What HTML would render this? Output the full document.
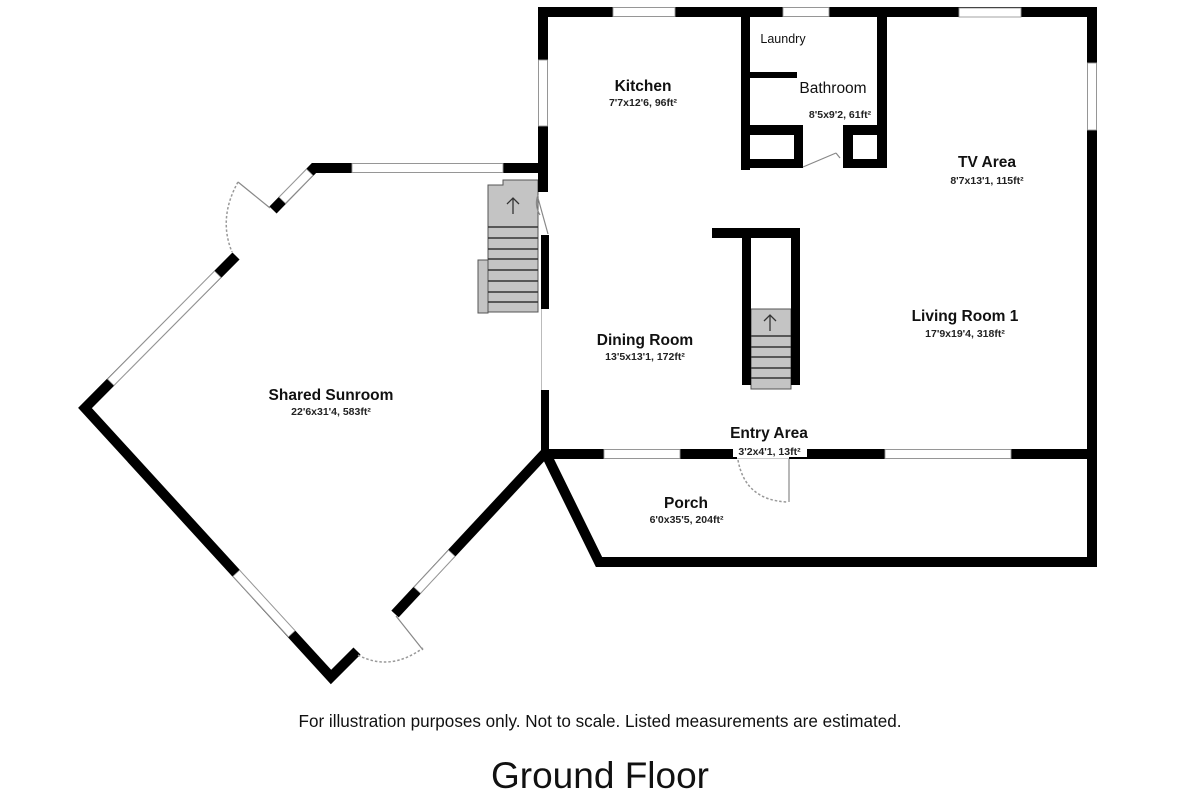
<!DOCTYPE html>
<html>
<head>
<meta charset="utf-8">
<style>
  html,body{margin:0;padding:0;background:#fff;}
  svg{display:block;}
  text{font-family:"Liberation Sans", Arial, sans-serif;}
  .lbl{font-size:15.5px;font-weight:bold;fill:#111;text-anchor:middle;}
  .dim{font-size:10.5px;font-weight:bold;fill:#222;text-anchor:middle;}
</style>
</head>
<body>
<svg width="1200" height="800" viewBox="0 0 1200 800" xmlns="http://www.w3.org/2000/svg">
  <rect width="1200" height="800" fill="#fff"/>

  <!-- Left stairs -->
  <g fill="#c4c4c4" stroke="#555" stroke-width="1">
    <rect x="478" y="260" width="10" height="53"/>
    <polygon points="488,185 503,185 503,180 538,180 538,312 488,312"/>
  </g>
  <g stroke="#333" stroke-width="1.5">
    <line x1="488" y1="227" x2="538" y2="227"/>
    <line x1="488" y1="238" x2="538" y2="238"/>
    <line x1="488" y1="249" x2="538" y2="249"/>
    <line x1="488" y1="259" x2="538" y2="259"/>
    <line x1="488" y1="270" x2="538" y2="270"/>
    <line x1="488" y1="281" x2="538" y2="281"/>
    <line x1="488" y1="292" x2="538" y2="292"/>
    <line x1="488" y1="302" x2="538" y2="302"/>
  </g>
  <g stroke="#333" stroke-width="1.3" fill="none">
    <line x1="513" y1="214" x2="513" y2="198"/>
    <polyline points="507,204 513,198 519,204"/>
  </g>

  <!-- Centre stairs -->
  <rect x="751" y="309" width="40" height="80" fill="#c4c4c4" stroke="#555" stroke-width="1"/>
  <g stroke="#333" stroke-width="1.5">
    <line x1="751" y1="336" x2="791" y2="336"/>
    <line x1="751" y1="347" x2="791" y2="347"/>
    <line x1="751" y1="357" x2="791" y2="357"/>
    <line x1="751" y1="368" x2="791" y2="368"/>
    <line x1="751" y1="378" x2="791" y2="378"/>
  </g>
  <g stroke="#333" stroke-width="1.3" fill="none">
    <line x1="770" y1="331" x2="770" y2="315"/>
    <polyline points="764,321 770,315 776,321"/>
  </g>

  <!-- Main building walls -->
  <g fill="#000">
    <rect x="538" y="7" width="559" height="10"/>
    <rect x="538" y="7" width="10" height="185"/>
    <rect x="541" y="235" width="8" height="74"/>
    <rect x="541" y="390" width="8" height="69"/>
    <rect x="741" y="7" width="9" height="163"/>
    <rect x="741" y="72" width="56" height="6"/>
    <rect x="741" y="125" width="62" height="43"/>
    <rect x="843" y="125" width="44" height="43"/>
    <rect x="877" y="7" width="10" height="161"/>
    <rect x="1087" y="7" width="10" height="560"/>
    <rect x="541" y="449" width="556" height="10"/>
    <rect x="712" y="228" width="88" height="10"/>
    <rect x="742" y="228" width="9" height="157"/>
    <rect x="791" y="228" width="9" height="157"/>
  </g>
  <g fill="#fff">
    <rect x="750" y="135" width="44" height="24"/>
    <rect x="853" y="135" width="24" height="24"/>
  </g>
  <line x1="541.5" y1="309" x2="541.5" y2="390" stroke="#bbb" stroke-width="1"/>

  <!-- Sunroom + porch walls -->
  <g fill="none" stroke="#000" stroke-width="10" stroke-linejoin="miter" stroke-miterlimit="10">
    <polyline points="236,256 85,408 331,677 357,651"/>
    <polyline points="395,614 546,452"/>
    <polyline points="548,168 314,168 273,210"/>
    <polyline points="546,454 599,562 1092,562 1092,454"/>
  </g>

  <!-- Windows (axis aligned) -->
  <g fill="#fff" stroke="#999" stroke-width="0.9">
    <rect x="613" y="7.5" width="62" height="9"/>
    <rect x="783" y="7.5" width="46" height="9"/>
    <rect x="959" y="8" width="62" height="9"/>
    <rect x="538.5" y="60" width="9" height="66"/>
    <rect x="1087.5" y="63" width="9" height="67"/>
    <rect x="604" y="449.5" width="76" height="9"/>
    <rect x="885" y="449.5" width="126" height="9"/>
    <rect x="352" y="163.5" width="151" height="9"/>
  </g>
  <!-- Door gap in entry wall -->
  <rect x="737" y="449" width="52" height="10" fill="#fff"/>
  <line x1="737" y1="458.5" x2="789" y2="458.5" stroke="#ccc" stroke-width="1"/>

  <!-- Diagonal windows -->
  <g stroke="#999" stroke-width="10" fill="none">
    <line x1="218" y1="274" x2="110.5" y2="382.5"/>
    <line x1="236" y1="573" x2="292" y2="634"/>
    <line x1="417" y1="590.5" x2="452" y2="553"/>
    <line x1="310" y1="172" x2="282" y2="200.5"/>
  </g>
  <g stroke="#fff" stroke-width="8" fill="none">
    <line x1="217.5" y1="274.5" x2="111" y2="382"/>
    <line x1="236.5" y1="573.5" x2="291.5" y2="633.5"/>
    <line x1="417.5" y1="590" x2="451.5" y2="553.5"/>
    <line x1="309.5" y1="172.5" x2="282.5" y2="200"/>
  </g>

  <!-- Doors -->
  <g stroke="#888" stroke-width="1.2" fill="none">
    <line x1="270" y1="208" x2="238" y2="182"/>
    <line x1="396" y1="616" x2="423" y2="650"/>
    <line x1="789" y1="459" x2="789" y2="502"/>
    <line x1="803" y1="167" x2="836" y2="153"/>
    <line x1="836" y1="153" x2="840" y2="158"/>
    <line x1="538" y1="198" x2="548" y2="234"/>
    <path d="M538,195 Q534,205 540,215"/>
  </g>
  <g stroke="#999" stroke-width="1.5" fill="none" stroke-dasharray="2.5,2">
    <path d="M238,182 Q218,218 232,252"/>
    <path d="M358,655 Q390,672 423,648"/>
    <path d="M738,460 Q745,500 787,502"/>
  </g>

  <!-- Labels -->
  <text x="783" y="43" style="font-size:12.5px;fill:#111;text-anchor:middle;">Laundry</text>
  <text x="643" y="91" class="lbl">Kitchen</text>
  <text x="643" y="106" class="dim">7'7x12'6, 96ft²</text>
  <text x="833" y="93" style="font-size:15.5px;fill:#111;text-anchor:middle;">Bathroom</text>
  <text x="840" y="118" class="dim">8'5x9'2, 61ft²</text>
  <text x="987" y="167" class="lbl">TV Area</text>
  <text x="987" y="184" class="dim">8'7x13'1, 115ft²</text>
  <text x="965" y="321" class="lbl">Living Room 1</text>
  <text x="965" y="337" class="dim">17'9x19'4, 318ft²</text>
  <text x="645" y="345" class="lbl">Dining Room</text>
  <text x="645" y="360" class="dim">13'5x13'1, 172ft²</text>
  <text x="331" y="400" class="lbl">Shared Sunroom</text>
  <text x="331" y="415" class="dim">22'6x31'4, 583ft²</text>
  <text x="769" y="438" class="lbl">Entry Area</text>
  <rect x="733" y="444" width="74" height="13" fill="#fff"/>
  <text x="769.5" y="455" class="dim">3'2x4'1, 13ft²</text>
  <text x="686" y="508" class="lbl">Porch</text>
  <text x="686.5" y="523" class="dim">6'0x35'5, 204ft²</text>

  <text x="600" y="727" style="font-size:17.1px;fill:#111;text-anchor:middle;">For illustration purposes only. Not to scale. Listed measurements are estimated.</text>
  <text x="600" y="788" style="font-size:37px;fill:#111;text-anchor:middle;">Ground Floor</text>
</svg>
</body>
</html>
